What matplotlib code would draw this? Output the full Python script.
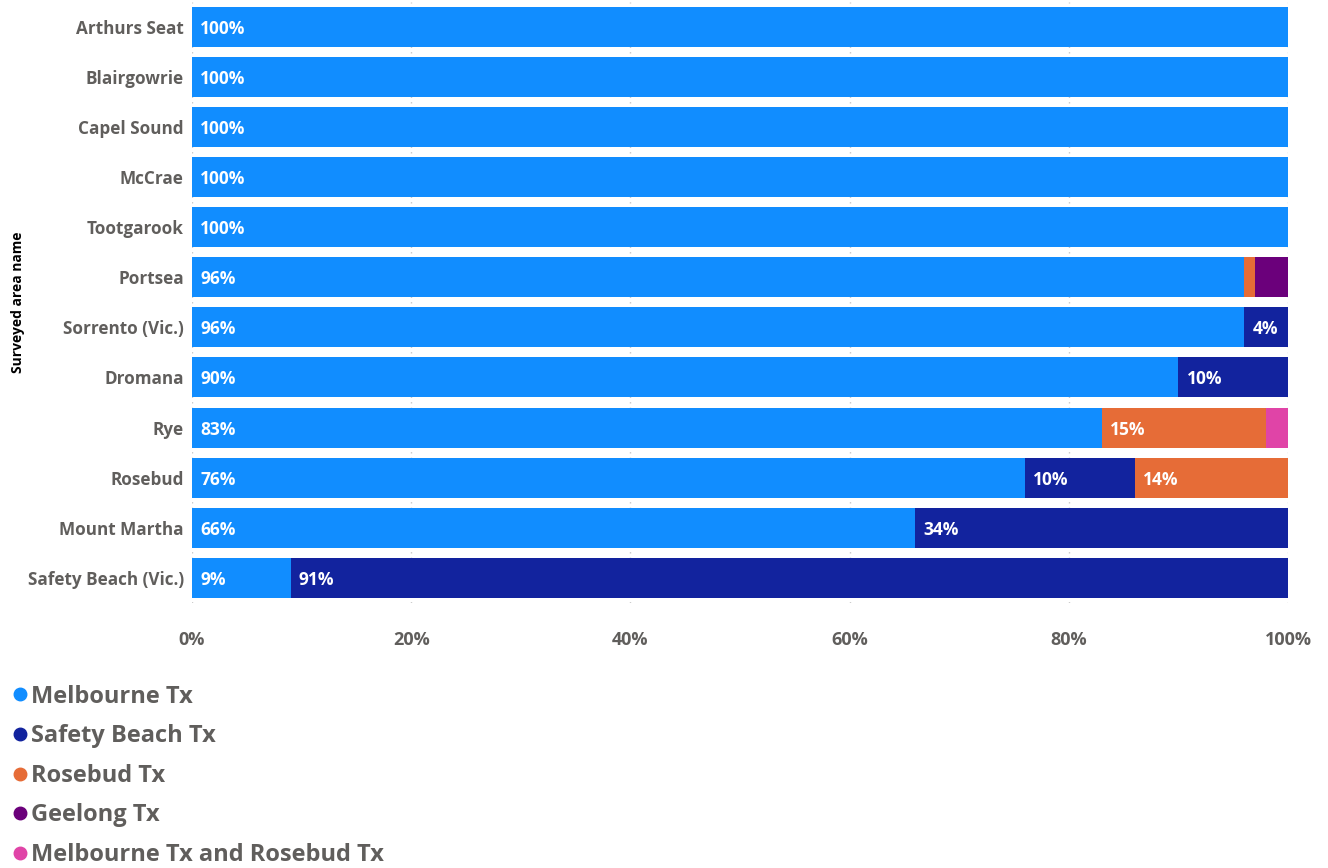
import numpy as np
import matplotlib as mpl
import matplotlib.pyplot as plt
from matplotlib.lines import Line2D

mpl.rcParams["font.family"] = ["Open Sans", "DejaVu Sans"]

areas = ["Arthurs Seat", "Blairgowrie", "Capel Sound", "McCrae", "Tootgarook",
         "Portsea", "Sorrento (Vic.)", "Dromana", "Rye", "Rosebud",
         "Mount Martha", "Safety Beach (Vic.)"]
series = ["Melbourne Tx", "Safety Beach Tx", "Rosebud Tx", "Geelong Tx",
          "Melbourne Tx and Rosebud Tx"]
melbourne = [100, 100, 100, 100, 100, 96, 96, 90, 83, 76, 66, 9]
safety_beach = [0, 0, 0, 0, 0, 0, 4, 10, 0, 10, 34, 91]
rosebud = [0, 0, 0, 0, 0, 1, 0, 0, 15, 14, 0, 0]
geelong = [0, 0, 0, 0, 0, 3, 0, 0, 0, 0, 0, 0]
melb_rosebud = [0, 0, 0, 0, 0, 0, 0, 0, 2, 0, 0, 0]
colors = ["#118DFF", "#12239E", "#E66C37", "#6B007B", "#E044A7"]

fig = plt.figure(figsize=(13.28, 8.68), dpi=100)
ax = fig.add_axes([192 / 1328, 1 - 603 / 868, 1096 / 1328, 601.5 / 868])

y = np.arange(len(areas))
left = np.zeros(len(areas))
for vals, col in zip([melbourne, safety_beach, rosebud, geelong, melb_rosebud], colors):
    vals = np.array(vals, dtype=float)
    ax.barh(y, vals, left=left, height=0.8, color=col, zorder=2)
    for yi, (l, v) in enumerate(zip(left, vals)):
        if v >= 4:
            ax.text(l + 0.75, yi + 0.04, f"{v:.0f}%", color="white", fontweight="bold",
                    fontsize=12.5, va="center", ha="left", zorder=3)
    left += vals

ax.set_ylim(len(areas) - 0.5, -0.5)
ax.set_xlim(0, 100)
ax.set_yticks(y)
ax.set_yticklabels(areas)
ax.set_xticks([0, 20, 40, 60, 80, 100])
ax.set_xticklabels(["0%", "20%", "40%", "60%", "80%", "100%"])
ax.tick_params(axis="both", length=0, labelsize=12.3, labelcolor="#605E5C")
ax.tick_params(axis="x", labelsize=13)
ax.tick_params(axis="y", pad=6)
ax.tick_params(axis="x", pad=20)
for lab in ax.get_xticklabels() + ax.get_yticklabels():
    lab.set_fontweight("bold")
ax.grid(axis="x", linestyle=(0, (1, 3)), color="#C8C8C8", linewidth=1, zorder=0)
for s in ax.spines.values():
    s.set_visible(False)
ax.set_ylabel("Surveyed area name", fontsize=10, fontweight="bold", color="black")
ax.yaxis.set_label_coords(-0.152, 0.5)

handles = [Line2D([], [], marker="o", linestyle="", markersize=9, color=c) for c in colors]
leg = fig.legend(handles, series, loc="upper left", bbox_to_anchor=(-0.003, 0.222),
                 frameon=False, handletextpad=-0.1, labelspacing=0.66, fontsize=17,
                 handlelength=1.2, borderaxespad=0)
for t in leg.get_texts():
    t.set_fontweight("bold")
    t.set_color("#605E5C")

fig.savefig("out.png", dpi=100)
